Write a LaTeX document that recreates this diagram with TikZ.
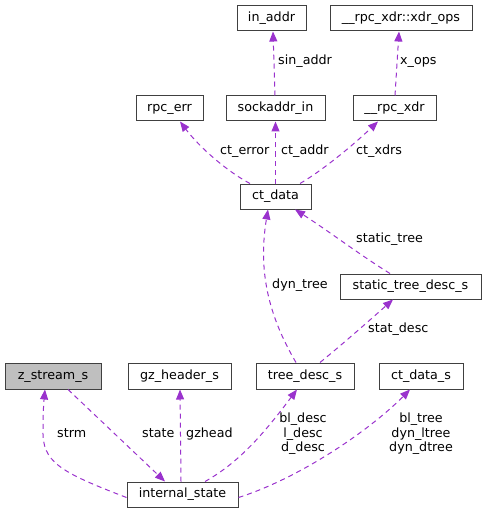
\documentclass[tikz,border=0pt]{standalone}
\usepackage{fontspec}
\setmainfont{DejaVu Sans}
\usetikzlibrary{arrows.meta}
\definecolor{edgecol}{HTML}{9A32CD}
\definecolor{boxline}{HTML}{404040}
\definecolor{rootfill}{HTML}{BFBFBF}
\tikzset{
  box/.style={draw=boxline, line width=1pt, rectangle, inner sep=0pt, minimum height=25pt,
    text height=9.3pt, text depth=3pt, font=\fontsize{12.7}{14.5}\selectfont},
  lbl/.style={inner sep=0pt, font=\fontsize{12.7}{14.5}\selectfont, align=center},
  member/.style={draw=edgecol, line width=1pt, dash pattern=on 5pt off 4pt,
    -{Triangle[length=10pt,width=8pt,fill=edgecol]}},
}
\begin{document}
\begin{tikzpicture}[x=1pt,y=-1pt]
\useasboundingbox (0,0) rectangle (487,513);
% boxes
\node[box, minimum width=69pt]  (in_addr)  at (271.5,18.5) {in\_addr};
\node[box, minimum width=142pt] (xdr_ops)  at (401,18.5)   {\_\_rpc\_xdr::xdr\_ops};
\node[box, minimum width=67pt]  (rpc_err)  at (169.5,108.5) {rpc\_err};
\node[box, minimum width=99pt]  (sockaddr) at (275.5,108.5) {sockaddr\_in};
\node[box, minimum width=83pt]  (rpc_xdr)  at (394.5,108.5) {\_\_rpc\_xdr};
\node[box, minimum width=71pt]  (ct_data)  at (275.5,196.5) {ct\_data};
\node[box, minimum width=141pt] (stdesc)   at (410.5,286.5) {static\_tree\_desc\_s};
\node[box, minimum width=96pt, minimum height=26pt, fill=rootfill] (zstream) at (53,376) {z\_stream\_s};
\node[box, minimum width=103pt, minimum height=26pt] (gzhdr)   at (179.5,376) {gz\_header\_s};
\node[box, minimum width=98pt, minimum height=26pt]  (tdesc)   at (305,376)   {tree\_desc\_s};
\node[box, minimum width=84pt, minimum height=26pt]  (ctdatas) at (421,376)   {ct\_data\_s};
\node[box, minimum width=111pt] (istate)   at (182.5,494.5) {internal\_state};

% edges
\draw[member] ([xshift=-0.5pt]sockaddr.north) -- ([xshift=1.5pt]in_addr.south);
\draw[member] ([xshift=0.5pt]rpc_xdr.north) -- ([xshift=-2pt]xdr_ops.south);
\draw[member] ([xshift=-25.5pt]ct_data.north) .. controls (228,172) and (200,148) .. ([xshift=10.5pt]rpc_err.south);
\draw[member] (ct_data.north) -- (sockaddr.south);
\draw[member] ([xshift=24.5pt]ct_data.north) .. controls (320,172) and (350,148) .. ([xshift=-16.5pt]rpc_xdr.south);
\draw[member] ([xshift=-9pt]tdesc.north) .. controls (268,315) and (258,270) .. ([xshift=-7.5pt]ct_data.south);
\draw[member] ([xshift=-20.5pt]stdesc.north) .. controls (360,255) and (330,232) .. ([xshift=19.5pt]ct_data.south);
\draw[member] ([xshift=15pt]tdesc.north) .. controls (345,342) and (370,320) .. ([xshift=-17.5pt]stdesc.south);
\draw[member] ([yshift=-3pt]istate.west) .. controls (60,472) and (42,462) .. (43,430) .. controls (43,410) and (44,400) .. ([xshift=-8pt]zstream.south);
\draw[member] ([xshift=15pt]zstream.south) -- ([xshift=-17.5pt]istate.north);
\draw[member] ([xshift=-1.5pt]istate.north) -- ([xshift=0.5pt]gzhdr.south);
\draw[member] ([xshift=22.5pt]istate.north) .. controls (240,462) and (265,432) .. ([xshift=-8pt]tdesc.south);
\draw[member] ([yshift=-3pt]istate.east) .. controls (300,478) and (370,430) .. ([xshift=-11pt]ctdatas.south);

% labels
\node[lbl, anchor=mid west] (l_sin)   at (278,62)  {sin\_addr};
\node[lbl, anchor=mid west] (l_xops)  at (400,62)  {x\_ops};
\node[lbl, anchor=mid west] (l_cterr) at (220,152) {ct\_error};
\node[lbl, anchor=mid west] (l_ctad)  at (281,152) {ct\_addr};
\node[lbl, anchor=mid west] (l_ctx)   at (356,152) {ct\_xdrs};
\node[lbl, anchor=mid west] (l_dyn)   at (272,286) {dyn\_tree};
\node[lbl, anchor=mid west] (l_stt)   at (356,240) {static\_tree};
\node[lbl, anchor=mid west] (l_std)   at (368,330) {stat\_desc};
\node[lbl, anchor=mid west] (l_strm)  at (57,435)  {strm};
\node[lbl, anchor=mid west] (l_state) at (142,435) {state};
\node[lbl, anchor=mid west] (l_gz)    at (186,435) {gzhead};
\node[lbl] (l_desc) at (303,434) {bl\_desc\\l\_desc\\d\_desc};
\node[lbl] (l_tree) at (421,434) {bl\_tree\\dyn\_ltree\\dyn\_dtree};
\end{tikzpicture}
\end{document}
